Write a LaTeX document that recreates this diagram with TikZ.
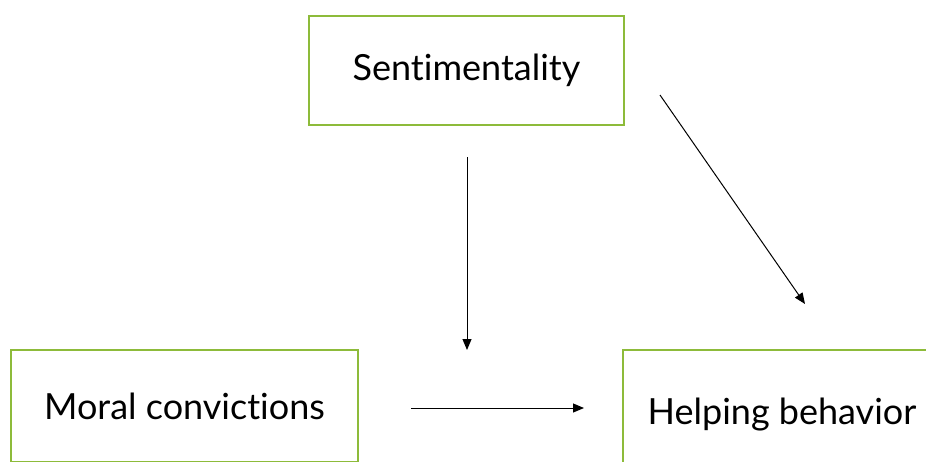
\documentclass[tikz,border=0pt]{standalone}
\usepackage{fontspec}
\setmainfont{Lato}[Ligatures={NoCommon,NoRequired,NoContextual}]
\usetikzlibrary{arrows.meta}
\definecolor{boxgreen}{RGB}{141,187,58}
\begin{document}
\begin{tikzpicture}[x=1pt,y=-1pt,
  varbox/.style={draw=boxgreen,line width=2pt,fill=white,inner sep=0pt,font=\fontsize{36}{42}\selectfont},
  conn/.style={line width=1pt,-{Triangle[length=11pt,width=9pt]}}]
\clip (0,0) rectangle (926,461);
\fill[white] (0,0) rectangle (926,461);
\node[varbox,minimum width=315pt,minimum height=109pt] (sent) at (466.5,70) {Sentimentality};
\node[varbox,minimum width=347pt,minimum height=112pt] (moral) at (184.5,406) {Moral convictions};
\node[varbox,minimum width=318pt,minimum height=130pt] (help) at (782,415) {Helping behavior};
\coordinate (v1) at (467,157);
\coordinate (v2) at (467,350);
\coordinate (d1) at (660,95);
\coordinate (d2) at (805,304);
\coordinate (h1) at (411,408);
\coordinate (h2) at (584,408);
\draw[conn] (v1) -- (v2);
\draw[conn] (d1) -- (d2);
\draw[conn] (h1) -- (h2);
\end{tikzpicture}
\end{document}
